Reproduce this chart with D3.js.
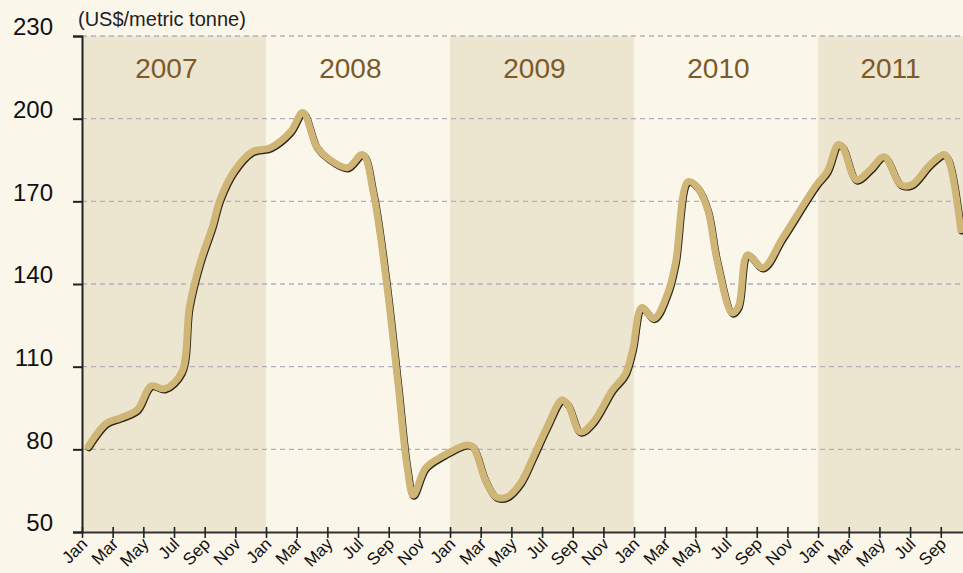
<!DOCTYPE html>
<html>
<head>
<meta charset="utf-8">
<script src="https://cdn.jsdelivr.net/npm/d3@7"></script>
<style>
  body { margin: 0; background: #faf6ea; }
  svg, svg text { font-family: "Liberation Sans", Arial, sans-serif; }
</style>
</head>
<body>
<div id="chart"></div>
<script>
// months since Jan 2007 and price (US$/metric tonne)
const monthPos = [0.4, 1.6, 2.5, 3.6, 4.5, 5.4, 6.5, 7.0, 7.7, 8.5, 9.0, 9.9, 11.1,
  12.3, 13.6, 14.4, 15.3, 16.0, 17.3, 18.3, 19.0, 19.8, 20.6, 21.2, 21.6, 22.4, 23.4,
  25.1, 25.5, 26.3, 27.0, 27.7, 28.6, 29.4, 30.3, 31.3, 31.7, 32.5, 33.3, 34.6, 35.4, 35.9,
  36.5, 37.3, 38.2, 38.7, 39.5, 40.1, 40.8, 41.4, 42.4, 42.8, 43.4, 44.4, 45.7, 47.9,
  48.6, 49.3, 49.6, 50.5, 51.4, 52.3, 53.4, 54.1, 55.3, 56.2, 56.5, 57.3];
const price = [81, 89.5, 91.4, 94.3, 103, 102, 108, 131.7, 147.7, 160.8, 170.6, 180.8, 188,
  189.5, 195.3, 202.2, 189.8, 185.8, 182.2, 187, 173, 143, 104, 73.6, 63.4, 73.2, 77.2,
  81.6, 80.9, 68.9, 62.7, 62.7, 67.8, 76.9, 87.8, 97.9, 96.1, 86.3, 89.6, 101.6, 107, 116,
  131.4, 127.5, 136.8, 147.7, 177.1, 175.3, 167, 148.8, 129.5, 131.7, 150.6, 145.9, 156.8, 176,
  180.8, 190.6, 189.8, 177.8, 181.5, 186.2, 176, 176, 183.3, 187, 185.1, 159.7];

const years = ["2007", "2008", "2009", "2010", "2011"];
const monthLabels = ["Jan", "Mar", "May", "Jul", "Sep", "Nov"];
const yTicks = [50, 80, 110, 140, 170, 200, 230];
const unitLabel = "(US$/metric tonne)";

const width = 963, height = 573;
const margin = { top: 36, right: 0, bottom: 41, left: 82 };
const xEnd = 57.45;
const font = '"Liberation Sans", Arial, sans-serif';

const svg = d3.select("#chart").append("svg")
    .attr("width", width)
    .attr("height", height);

svg.append("rect").attr("width", width).attr("height", height).attr("fill", "#faf6ea");

const x = d3.scaleLinear().domain([0, xEnd]).range([margin.left, width - margin.right]);
const y = d3.scaleLinear().domain([50, 230]).range([height - margin.bottom, margin.top]);

// --- year bands ---
const bands = years.map((yr, i) => ({ yr, start: i * 12, end: Math.min((i + 1) * 12, xEnd), shaded: i % 2 === 0 }));

svg.append("g").selectAll("rect").data(bands.filter(d => d.shaded)).join("rect")
    .attr("x", d => x(d.start))
    .attr("width", d => x(d.end) - x(d.start))
    .attr("y", y(230))
    .attr("height", y(50) - y(230))
    .attr("fill", "#ece5cf");

// --- grid ---
svg.append("g").selectAll("line").data(yTicks.filter(t => t > 50)).join("line")
    .attr("x1", x(0)).attr("x2", width)
    .attr("y1", d => y(d)).attr("y2", d => y(d))
    .attr("stroke", "#b3afc2")
    .attr("stroke-width", 1.3)
    .attr("stroke-dasharray", "5,4");

// --- year labels ---
svg.append("g").selectAll("text").data(bands).join("text")
    .attr("x", d => d.end - d.start < 12 ? (x(d.start) + x(d.end)) / 2 : x(d.start + 5.5))
    .attr("y", 78)
    .attr("text-anchor", "middle")
    .attr("fill", "#7d5a26")
    .style("font-family", font)
    .style("font-size", "28px")
    .text(d => d.yr);

// --- line ---
const series = monthPos.map((m, i) => ({ m, v: price[i] }));
const line = d3.line().x(d => x(d.m)).y(d => y(d.v)).curve(d3.curveCatmullRom.alpha(0.5));

svg.append("path").datum(series)
    .attr("d", line)
    .attr("transform", "translate(0.8,1.2)")
    .attr("fill", "none")
    .attr("stroke", "#2b2418")
    .attr("stroke-width", 7)
    .attr("stroke-linejoin", "round")
    .attr("stroke-linecap", "round");

svg.append("path").datum(series)
    .attr("d", line)
    .attr("fill", "none")
    .attr("stroke", "#cfb676")
    .attr("stroke-width", 7)
    .attr("stroke-linejoin", "round")
    .attr("stroke-linecap", "round");

// --- y axis ---
const yAxis = d3.axisLeft(y).tickValues(yTicks).tickSize(9).tickFormat(d3.format("d"));
const gy = svg.append("g").attr("transform", `translate(${x(0)},0)`).call(yAxis);
gy.attr("font-family", null);
gy.select(".domain").attr("stroke", "#222").attr("stroke-width", 2);
gy.selectAll(".tick line").attr("stroke", "#222").attr("stroke-width", 2);
gy.selectAll(".tick text")
    .attr("x", -29)
    .attr("dy", "-0.05em")
    .attr("fill", "#111")
    .style("font-family", font)
    .style("font-size", "24px");

// --- x axis ---
const xTicks = d3.range(0, 57, 2);
const xAxis = d3.axisBottom(x).tickValues(xTicks).tickSize(0).tickFormat(d => monthLabels[(d % 12) / 2]);
const gx = svg.append("g").attr("transform", `translate(0,${y(50)})`).call(xAxis);
gx.attr("font-family", null);
gx.select(".domain").attr("stroke", "#333").attr("stroke-width", 2);
gx.selectAll(".tick").append("line")
    .attr("y1", -5).attr("y2", 6)
    .attr("stroke", "#222").attr("stroke-width", 1.6);
gx.selectAll(".tick text")
    .attr("fill", "#111")
    .style("font-family", font)
    .style("font-size", "17px")
    .attr("text-anchor", "end")
    .attr("y", 0)
    .attr("dy", 0)
    .attr("transform", "translate(6,13) rotate(-45)");

// --- unit label ---
svg.append("text")
    .attr("x", 78).attr("y", 26)
    .attr("fill", "#222")
    .style("font-family", font)
    .style("font-size", "20px")
    .text(unitLabel);
</script>
</body>
</html>
